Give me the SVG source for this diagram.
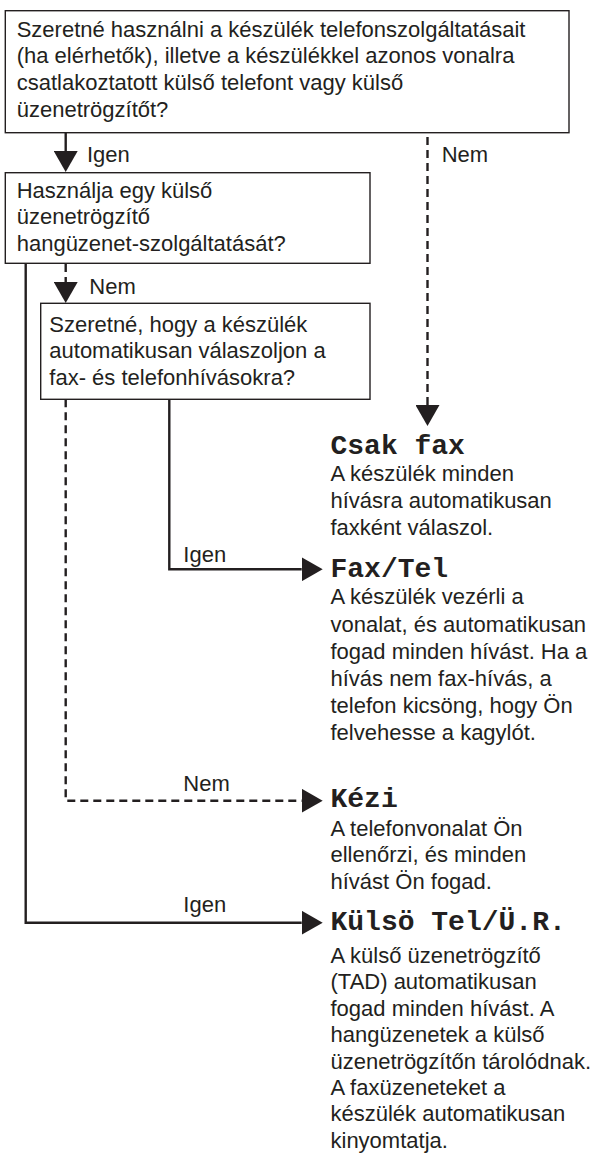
<svg xmlns="http://www.w3.org/2000/svg" width="595" height="1153" viewBox="0 0 595 1153">
<style>
text{font-family:"Liberation Sans",Arial,sans-serif;font-size:22px;fill:#231f20}
.t{font-family:"Liberation Mono","Courier New",monospace;font-size:28px;font-weight:bold}
.box{fill:#fff;stroke:#231f20;stroke-width:1.4}
.ln{fill:none;stroke:#231f20;stroke-width:2.4}
.d{stroke-dasharray:8 5}
</style>
<defs>
<marker id="arr" markerUnits="userSpaceOnUse" markerWidth="21" markerHeight="24" viewBox="0 0 21 24" refX="0" refY="12" orient="auto">
<path d="M0,0 L21,12 L0,24 z" fill="#231f20"/>
</marker>
</defs>
<rect width="595" height="1153" fill="#fff"/>
<g id="connectors">
<path class="ln" d="M65.7,132.7 V151" marker-end="url(#arr)"/>
<path class="ln d" d="M427.5,137 V405" marker-end="url(#arr)"/>
<path class="ln d" d="M65.7,264 V282" marker-end="url(#arr)"/>
<path class="ln" d="M25.7,263.3 V922.7 H301.7" marker-end="url(#arr)"/>
<path class="ln" d="M169.3,399.3 V569.3 H301.7" marker-end="url(#arr)"/>
<path class="ln d" d="M65.7,399.3 V800.7 H301.7" marker-end="url(#arr)"/>
<text x="87" y="162">Igen</text>
<text x="441.7" y="162.3">Nem</text>
<text x="89.3" y="294">Nem</text>
<text x="183.3" y="561.7">Igen</text>
<text x="183.3" y="790.7">Nem</text>
<text x="183.3" y="912.3">Igen</text>
</g>
<g id="q1">
<rect class="box" x="5.3" y="10.7" width="563.7" height="122"/>
<text x="16.7" y="36.7">Szeretné használni a készülék telefonszolgáltatásait</text>
<text x="16.7" y="63.4">(ha elérhetők), illetve a készülékkel azonos vonalra</text>
<text x="16.7" y="90.1">csatlakoztatott külső telefont vagy külső</text>
<text x="16.7" y="116.8">üzenetrögzítőt?</text>
</g>
<g id="q2">
<rect class="box" x="5.3" y="172.7" width="364.7" height="90.6"/>
<text x="16.7" y="197.7">Használja egy külső</text>
<text x="16.7" y="224.4">üzenetrögzítő</text>
<text x="16.7" y="251.1">hangüzenet-szolgáltatását?</text>
</g>
<g id="q3">
<rect class="box" x="40.7" y="303.3" width="329.3" height="96"/>
<text x="49.3" y="331.7">Szeretné, hogy a készülék</text>
<text x="49.3" y="358.4">automatikusan válaszoljon a</text>
<text x="49.3" y="385.1">fax- és telefonhívásokra?</text>
</g>
<g id="csak-fax">
<text class="t" x="330.5" y="454">Csak fax</text>
<text x="330.5" y="480.7">A készülék minden</text>
<text x="330.5" y="507.9">hívásra automatikusan</text>
<text x="330.5" y="535">faxként válaszol.</text>
</g>
<g id="fax-tel">
<text class="t" x="330.5" y="576.7">Fax/Tel</text>
<text x="330.5" y="604.3">A készülék vezérli a</text>
<text x="330.5" y="631.5">vonalat, és automatikusan</text>
<text x="330.5" y="658.7">fogad minden hívást. Ha a</text>
<text x="330.5" y="685.9">hívás nem fax-hívás, a</text>
<text x="330.5" y="713.1">telefon kicsöng, hogy Ön</text>
<text x="330.5" y="740.3">felvehesse a kagylót.</text>
</g>
<g id="kezi">
<text class="t" x="330.5" y="806.7">Kézi</text>
<text x="330.5" y="836">A telefonvonalat Ön</text>
<text x="330.5" y="862.3">ellenőrzi, és minden</text>
<text x="330.5" y="888.6">hívást Ön fogad.</text>
</g>
<g id="kulso">
<text class="t" x="330.5" y="930">Külsö Tel/Ü.R.</text>
<text x="330.5" y="963">A külső üzenetrögzítő</text>
<text x="330.5" y="989.4">(TAD) automatikusan</text>
<text x="330.5" y="1015.8">fogad minden hívást. A</text>
<text x="330.5" y="1042.2">hangüzenetek a külső</text>
<text x="330.5" y="1068.6">üzenetrögzítőn tárolódnak.</text>
<text x="330.5" y="1095">A faxüzeneteket a</text>
<text x="330.5" y="1121.4">készülék automatikusan</text>
<text x="330.5" y="1147.8">kinyomtatja.</text>
</g>
</svg>
